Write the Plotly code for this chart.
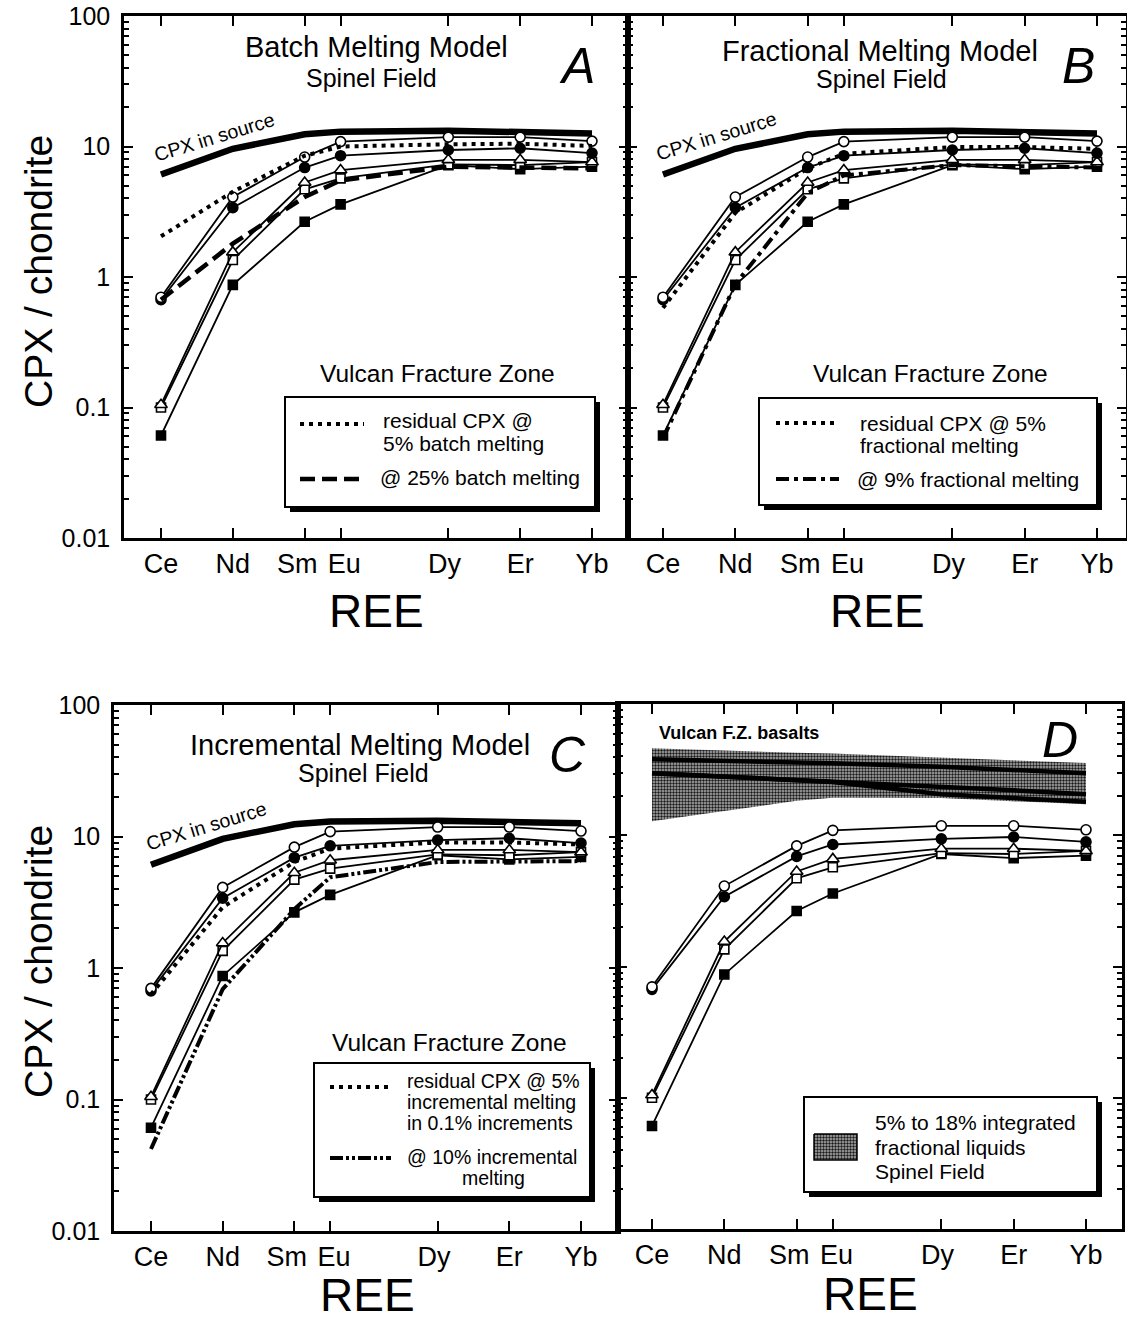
import plotly.graph_objects as go

W, H = 1127, 1321
FONT = "Liberation Sans, Arial, Helvetica, sans-serif"
NB = "\u00a0"

# ---------------- data ----------------
elements = ["Ce", "Nd", "Sm", "Eu", "Dy", "Er", "Yb"]
atomic_no = [58, 60, 62, 63, 66, 68, 70]
# tick labels (non-breaking spaces nudge the crowded Sm / Eu labels apart as in the original)
tick_labels = ["Ce", "Nd", "Sm" + NB + NB, NB + "Eu", "Dy" + NB, "Er", "Yb"]

cpx_source = [6.1, 9.6, 12.4, 13.0, 13.2, 13.0, 12.6]

vfz_open_circle = [0.70, 4.1, 8.3, 10.9, 11.8, 11.8, 11.0]
vfz_filled_circle = [0.67, 3.4, 6.9, 8.5, 9.4, 9.7, 8.9]
vfz_open_triangle = [0.105, 1.55, 5.3, 6.6, 7.9, 7.9, 7.6]
vfz_open_square = [0.10, 1.35, 4.7, 5.7, 7.3, 7.2, 7.6]
vfz_filled_square = [0.061, 0.87, 2.65, 3.6, 7.2, 6.7, 7.0]

batch_5 = [2.05, 4.5, 8.5, 10.0, 10.4, 10.5, 10.1]
batch_25 = [0.67, 1.8, 4.1, 5.5, 7.0, 6.9, 6.8]
frac_5 = [0.58, 3.1, 6.8, 8.8, 9.9, 9.9, 9.6]
frac_9 = [0.058, 0.88, 4.4, 6.0, 7.2, 7.0, 6.9]
incr_5 = [0.63, 2.9, 6.4, 8.1, 9.0, 9.0, 8.7]
incr_10 = [0.042, 0.69, 2.8, 4.9, 6.4, 6.4, 6.5]

liquid_upper = [46, 44, 42.5, 42, 39, 37, 35.5]
liquid_lower = [12.8, 15.3, 18.3, 19.3, 19.2, 18.2, 17.2]
basalt_1 = [38, 37, 36, 35.3, 33.3, 31.5, 29.7]
basalt_2 = [29.7, 28, 26.5, 25.5, 23.5, 22, 20.5]
basalt_3 = [29.7, 28, 26.5, 25.5, 20.5, 19.3, 18.0]

y_tick_vals = [0.01, 0.1, 1, 10, 100]
y_tick_text = ["0.01", "0.1", "1", "10", "100"]

# ---------------- layout geometry (pixels) ----------------
panels = {
    "A": dict(left=124, right=628, top=16, bottom=538, ce=161, yb=592, ax=""),
    "B": dict(left=628, right=1126, top=16, bottom=538, ce=663, yb=1097, ax="2"),
    "C": dict(left=114, right=618, top=705, bottom=1231, ce=151, yb=581, ax="3"),
    "D": dict(left=618, right=1122, top=704, bottom=1229, ce=652, yb=1086, ax="4"),
}


def xrange_of(p):
    s = (p["yb"] - p["ce"]) / 12.0
    return [58 - (p["ce"] - p["left"]) / s, 70 + (p["right"] - p["yb"]) / s]


def px_to_x(p, px):
    lo, hi = xrange_of(p)
    return lo + (px - p["left"]) / (p["right"] - p["left"]) * (hi - lo)


def py_to_y(p, py):
    return 10 ** (2 - (py - p["top"]) / (p["bottom"] - p["top"]) * 4)


fig = go.Figure()


def axes_of(name):
    a = panels[name]["ax"]
    return "x" + a, "y" + a


def add_line(name, y, width=1.8, dash="solid", marker=None):
    xa, ya = axes_of(name)
    kw = dict(x=atomic_no, y=y, xaxis=xa, yaxis=ya, showlegend=False,
              hoverinfo="skip", line=dict(color="black", width=width, dash=dash))
    if marker:
        kw["mode"] = "lines+markers"
        kw["marker"] = marker
    else:
        kw["mode"] = "lines"
    fig.add_trace(go.Scatter(**kw))


def mk(symbol, filled, size):
    return dict(symbol=symbol, size=size, color="black" if filled else "white",
                line=dict(color="black", width=1.6))


samples = [
    (vfz_filled_square, mk("square", True, 9)),
    (vfz_open_square, mk("square", False, 9)),
    (vfz_open_triangle, mk("triangle-up", False, 11)),
    (vfz_filled_circle, mk("circle", True, 10)),
    (vfz_open_circle, mk("circle", False, 10)),
]

DOT = "4px,5px"
DASH = "15px,7px"
DASHDOT = "13px,5px,4px,5px"
DASHDOTDOT = "13px,3px,3px,3px,3px,3px"

PATTERN = dict(shape=".", fgcolor="#1a1a1a", bgcolor="#b0b0b0", size=3, solidity=0.5)

# Panel D band (drawn first)
pD = panels["D"]
fig.add_trace(go.Scatter(
    x=atomic_no + atomic_no[::-1], y=liquid_upper + liquid_lower[::-1],
    xaxis="x4", yaxis="y4", mode="lines", fill="toself",
    line=dict(width=0, color="rgba(0,0,0,0)"),
    fillcolor="#8c8c8c", fillpattern=PATTERN,
    showlegend=False, hoverinfo="skip"))
for b in (basalt_1, basalt_2, basalt_3):
    add_line("D", b, width=4.5)

for name in ["A", "B", "C"]:
    add_line(name, cpx_source, width=6.5)

for name in ["A", "B", "C", "D"]:
    for y, m in samples:
        add_line(name, y, width=1.8, marker=m)

add_line("A", batch_5, width=4, dash=DOT)
add_line("A", batch_25, width=4.5, dash=DASH)
add_line("B", frac_5, width=4, dash=DOT)
add_line("B", frac_9, width=4, dash=DASHDOT)
add_line("C", incr_5, width=4, dash=DOT)
add_line("C", incr_10, width=4, dash=DASHDOTDOT)

# ---------------- axes ----------------
minor_vals = [m * 10 ** e for e in (-2, -1, 0, 1) for m in range(2, 10)]
for name, p in panels.items():
    a = p["ax"]
    xdom = [p["left"] / W, p["right"] / W]
    ydom = [1 - p["bottom"] / H, 1 - p["top"] / H]
    fig.layout["xaxis" + a] = dict(
        domain=xdom, range=xrange_of(p), anchor="y" + a, automargin=False,
        tickvals=atomic_no, ticktext=tick_labels, tickangle=0,
        ticks="inside", ticklen=10, tickwidth=2,
        tickcolor="black", mirror="allticks", showline=True, linewidth=2.5, linecolor="black",
        showgrid=False, zeroline=False, ticklabelstandoff=0,
        tickfont=dict(family=FONT, size=27, color="black"))
    fig.layout["yaxis" + a] = dict(
        domain=ydom, type="log", range=[-2, 2], anchor="x" + a, automargin=False,
        tickvals=y_tick_vals, ticktext=y_tick_text, ticks="inside", ticklen=9, tickwidth=2,
        tickcolor="black", mirror="allticks", showline=True, linewidth=2.5, linecolor="black",
        showgrid=False, zeroline=False, showticklabels=name in ("A", "C"),
        ticklabelstandoff=6,
        tickfont=dict(family=FONT, size=25, color="black"),
        minor=dict(tickvals=minor_vals, ticks="inside", ticklen=5, tickwidth=1.5,
                   tickcolor="black", showgrid=False))

# ---------------- annotations ----------------
anns = []


def ann(text, px, py, size, xanchor="center", **kw):
    d = dict(text=text, x=px / W, y=1 - py / H, xref="paper", yref="paper",
             showarrow=False, xanchor=xanchor, yanchor="middle",
             font=dict(family=FONT, size=size, color="black"))
    d.update(kw)
    anns.append(d)


# titles
ann("Batch Melting Model", 377, 47, 29)
ann("Spinel Field", 371, 78, 25)
ann("<i>A</i>", 577, 66, 50)
ann("Fractional Melting Model", 880, 51, 29)
ann("Spinel Field", 881, 79, 25)
ann("<i>B</i>", 1078, 66, 50)
ann("Incremental Melting Model", 360, 745, 29)
ann("Spinel Field", 363, 773, 25)
ann("<i>C</i>", 567, 755, 50)
ann("<i>D</i>", 1060, 740, 50)
ann("<b>Vulcan F.Z. basalts</b>", 657, 733, 18, xanchor="left")

# CPX in source
ann("CPX in source", 214, 137, 19.5, textangle=-17)
ann("CPX in source", 716, 136, 19.5, textangle=-17)
ann("CPX in source", 206, 826, 19.5, textangle=-17)

# Vulcan Fracture Zone
ann("Vulcan Fracture Zone", 437, 373, 24.5)
ann("Vulcan Fracture Zone", 930, 373, 24.5)
ann("Vulcan Fracture Zone", 449, 1042, 24.5)

# legend texts
ann("residual CPX @", 381, 420, 21, xanchor="left")
ann("5% batch melting", 381, 443, 21, xanchor="left")
ann("@ 25% batch melting", 378, 478, 21, xanchor="left")
ann("residual CPX @ 5%", 858, 423, 21, xanchor="left")
ann("fractional melting", 858, 445, 21, xanchor="left")
ann("@ 9% fractional melting", 855, 480, 21, xanchor="left")
ann("residual CPX @ 5%", 405, 1081, 19.5, xanchor="left")
ann("incremental melting", 405, 1102, 19.5, xanchor="left")
ann("in 0.1% increments", 405, 1123, 19.5, xanchor="left")
ann("@ 10% incremental", 405, 1157, 19.5, xanchor="left")
ann("melting", 493, 1178, 19.5)
ann("5% to 18% integrated", 873, 1122, 21, xanchor="left")
ann("fractional liquids", 873, 1147, 21, xanchor="left")
ann("Spinel Field", 873, 1171, 21, xanchor="left")

# axis titles
ann("REE", 377, 611, 46)
ann("REE", 877, 611, 46)
ann("REE", 367, 1295, 46)
ann("REE", 870, 1294, 46)
ann("CPX / chondrite", 38, 272, 39, textangle=-90)
ann("CPX / chondrite", 38, 962, 39, textangle=-90)

# ---------------- shapes (legend boxes) ----------------
shapes = []


def box(x0, y0, x1, y1, layer="above"):
    shapes.append(dict(type="rect", xref="paper", yref="paper", layer=layer,
                       x0=(x0 + 5) / W, x1=(x1 + 5) / W, y0=1 - (y0 + 5) / H, y1=1 - (y1 + 5) / H,
                       fillcolor="black", line=dict(width=0)))
    shapes.append(dict(type="rect", xref="paper", yref="paper", layer=layer,
                       x0=x0 / W, x1=x1 / W, y0=1 - y0 / H, y1=1 - y1 / H,
                       fillcolor="white", line=dict(color="black", width=2)))


def sample(x0, x1, y, dash, width):
    shapes.append(dict(type="line", xref="paper", yref="paper", layer="above",
                       x0=x0 / W, x1=x1 / W, y0=1 - y / H, y1=1 - y / H,
                       line=dict(color="black", width=width, dash=dash)))


box(285, 397, 595, 507)
sample(300, 364, 424, DOT, 4)
sample(300, 366, 479, DASH, 4.5)
box(759, 398, 1097, 505)
sample(776, 839, 423, DOT, 4)
sample(776, 839, 479, DASHDOT, 4)
box(314, 1063, 590, 1197)
sample(330, 391, 1087, DOT, 4)
sample(330, 391, 1158, DASHDOTDOT, 4)
# D legend box sits below traces so that the pattern swatch (a trace) shows on it
box(804, 1097, 1097, 1192, layer="below")

# legend swatch for panel D (pattern-filled polygon placed in D's data space)
sx0, sx1 = px_to_x(pD, 814), px_to_x(pD, 857)
sy0, sy1 = py_to_y(pD, 1134), py_to_y(pD, 1160)
fig.add_trace(go.Scatter(
    x=[sx0, sx1, sx1, sx0, sx0], y=[sy0, sy0, sy1, sy1, sy0], xaxis="x4", yaxis="y4",
    mode="lines", fill="toself", line=dict(color="black", width=1.5),
    fillcolor="#8c8c8c", fillpattern=PATTERN,
    showlegend=False, hoverinfo="skip"))

fig.update_layout(
    template="none",
    width=W, height=H, margin=dict(l=0, r=0, t=0, b=0, pad=0, autoexpand=False),
    paper_bgcolor="white", plot_bgcolor="rgba(0,0,0,0)",
    annotations=anns, shapes=shapes, showlegend=False)

fig.write_html("out.html")
